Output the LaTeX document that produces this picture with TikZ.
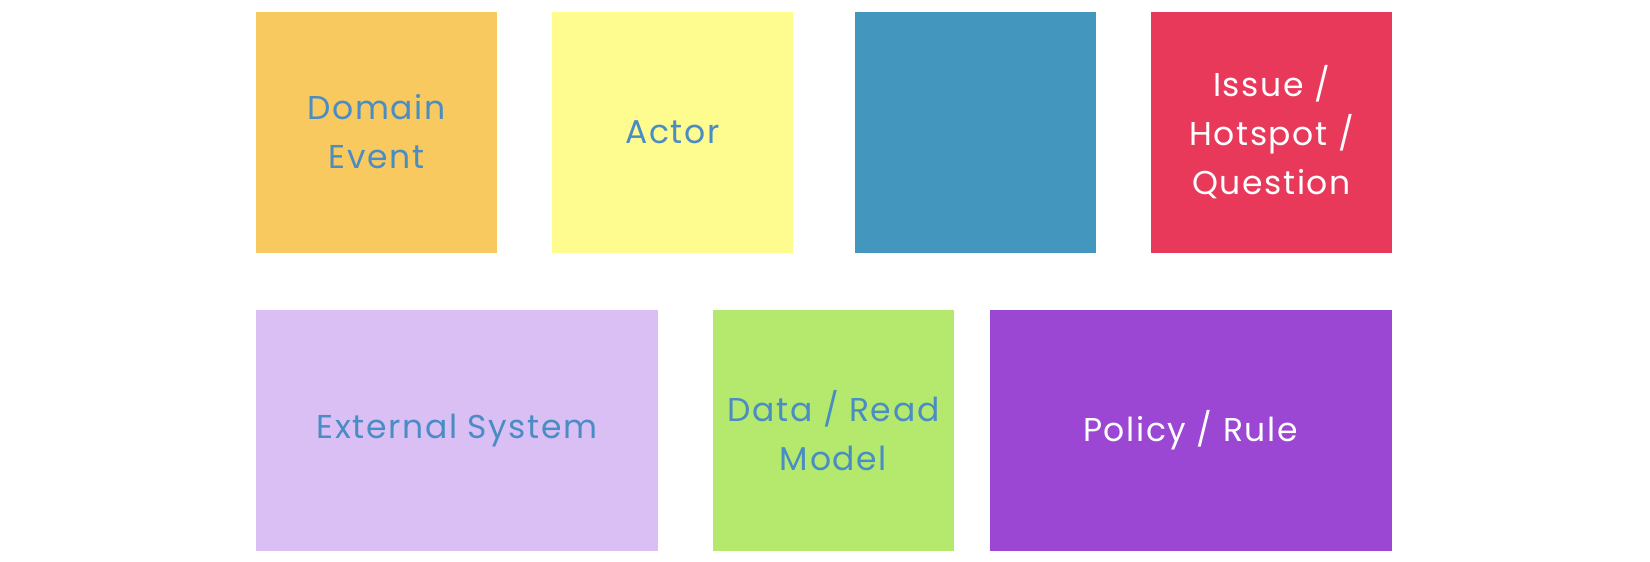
\documentclass[tikz,border=0pt]{standalone}
\usepackage{fontspec}
\setmainfont[LetterSpace=5]{Poppins}
\usetikzlibrary{positioning}

\definecolor{eventorange}{HTML}{F8C95F}
\definecolor{actoryellow}{HTML}{FEFB8F}
\definecolor{commandblue}{HTML}{4396BE}
\definecolor{hotspotred}{HTML}{E8395B}
\definecolor{externallilac}{HTML}{DABFF5}
\definecolor{readgreen}{HTML}{B4E96E}
\definecolor{policypurple}{HTML}{9B47D3}
\definecolor{textblue}{HTML}{4A8CC4}

\begin{document}
\begin{tikzpicture}[
    x=1pt, y=-1pt,
    sticky/.style={rectangle, draw=none, inner sep=0pt, minimum height=241pt,
                   align=center, text=textblue,
                   font=\fontsize{33}{49}\selectfont},
    square/.style={sticky, minimum width=241pt},
    wide/.style={sticky, minimum width=402pt}
]
    \useasboundingbox (0, 0) rectangle (1650, 562);

    % Top row
    \node[square, fill=eventorange] (event) at (376.5, 132) {Domain\\Event};
    \node[square, fill=actoryellow] (actor) at (672.5, 132) {Actor};
    \node[square, fill=commandblue] (command) at (975, 132) {};
    \node[square, fill=hotspotred, text=white] (hotspot) at (1271.5, 132) {Issue /\\Hotspot /\\Question};

    % Bottom row
    \node[wide, fill=externallilac] (external) at (457, 430.5) {External System};
    \node[square, fill=readgreen] (readmodel) at (833.5, 430.5) {Data / Read\\Model};
    \node[wide, fill=policypurple, text=white] (policy) at (1190.5, 430.5) {Policy / Rule};

\end{tikzpicture}
\end{document}
